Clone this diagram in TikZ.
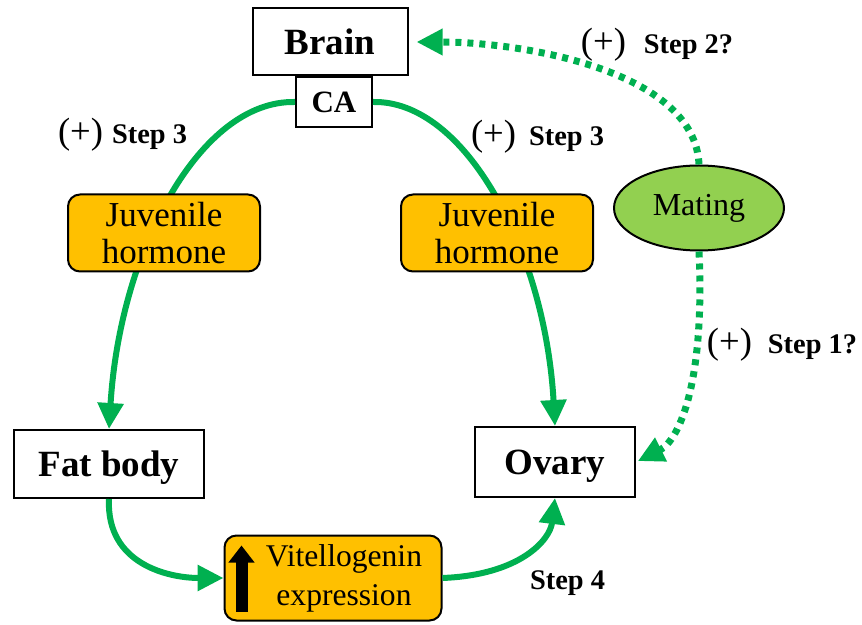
\documentclass[tikz,border=0pt]{standalone}
\usepackage{fontspec}
\setmainfont{Liberation Serif}
\usetikzlibrary{arrows.meta,shapes.geometric}
\definecolor{leafgreen}{RGB}{0,176,80}
\definecolor{hormone}{RGB}{255,192,0}
\definecolor{matinggreen}{RGB}{146,208,80}
\tikzstyle{organ}=[draw=black,line width=1pt,fill=white,inner sep=0pt,text depth=0pt,font=\fontsize{18.5}{22}\selectfont\bfseries]
\tikzstyle{horm}=[draw=black,line width=1pt,fill=hormone,rounded corners=6pt,inner sep=0pt,align=center,font=\fontsize{17.5}{18.5}\selectfont]
\tikzstyle{flow}=[draw=leafgreen,line width=3pt,-{Triangle[length=13pt,width=12.5pt]}]
\tikzstyle{maybe}=[draw=leafgreen,line width=3.5pt,dash pattern=on 3pt off 3pt,-{Triangle[length=13pt,width=12.5pt]}]
\tikzstyle{sign}=[inner sep=0pt,font=\bfseries]
\newcommand{\plus}[1]{{\fontsize{18.3}{20}\selectfont\mdseries(+)}\hspace{#1}}
\newcommand{\stp}[1]{{\fontsize{14.2}{16}\selectfont Step #1}}

\begin{document}
\begin{tikzpicture}[x=0.5pt,y=-0.5pt]
	\useasboundingbox (0,0) rectangle (862,625);
	\node[organ,minimum width=77.5pt,minimum height=33.5pt] (brain) at (330,42) {Brain};
	\node[organ,minimum width=38pt,minimum height=25pt,font=\fontsize{15.5}{18}\selectfont\bfseries] (ca) at (334,102) {CA};
	\node[organ,minimum width=95pt,minimum height=34pt] (fat) at (109,464) {Fat body};
	\node[organ,minimum width=80pt,minimum height=35pt] (ovary) at (555,462) {Ovary};
	\node[horm,minimum width=108.5pt,minimum height=42.5pt,font=\fontsize{15.8}{19.5}\selectfont] (vtg) at (333,578)
		{\hspace{11pt}\begin{tabular}{@{}c@{}}Vitellogenin\\expression\end{tabular}};
	\node[ellipse,draw=black,line width=1pt,fill=matinggreen,minimum width=85pt,minimum height=42.5pt,inner sep=0pt,font=\fontsize{16}{18}\selectfont] (mating) at (699,208) {Mating};
	\draw[black,line width=6pt,-{Triangle[length=8.5pt,width=12.5pt]}]
		([xshift=9pt,yshift=5pt]vtg.south west) -- ([xshift=9pt,yshift=-5.5pt]vtg.north west);

	\draw[flow] (ca.west) .. controls (200,100) and (120,250) .. (fat.north);
	\draw[flow] (ca.east) .. controls (465,100) and (545,250) .. (ovary.north);
	\draw[flow] (fat.south) .. controls (106,565) and (170,578) .. (vtg.west);
	\draw[flow] (vtg.east) .. controls (520,575) and (550,540) .. (ovary.south);
	\draw[maybe,shorten >=4pt] (mating.north) .. controls (695,70) and (520,42) .. (brain.east);
	\draw[maybe,shorten >=1pt] (mating.south) .. controls (705,380) and (680,440) .. (ovary.east);

	\node[horm,minimum width=96pt,minimum height=38.5pt] (jhleft) at (164,233) {Juvenile\\hormone};
	\node[horm,minimum width=96pt,minimum height=38.5pt] (jhright) at (497,233) {Juvenile\\hormone};

	\node[sign] (s3left) at (122.5,135) {\plus{4.5pt}\stp{3}};
	\node[sign] (s3right) at (537.5,137) {\plus{6.5pt}\stp{3}};
	\node[sign] (s2) at (657,45) {\plus{9pt}\stp{2?}};
	\node[sign] (s1) at (782,345) {\plus{8pt}\stp{1?}};
	\node[sign] (s4) at (567.5,583) {\stp{4}};
\end{tikzpicture}
\end{document}
